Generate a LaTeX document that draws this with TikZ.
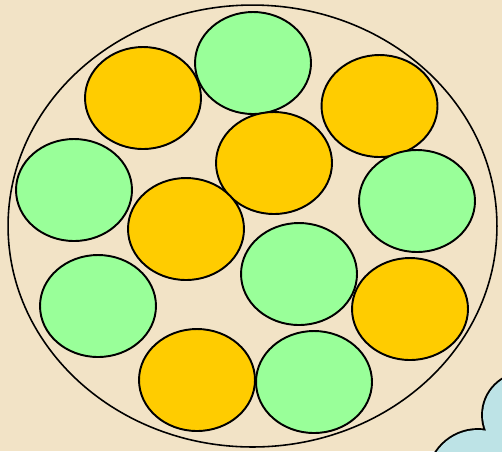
\documentclass[tikz,border=0pt]{standalone}
\usepackage{tikz}
\usetikzlibrary{shapes.geometric}
\usepackage{xcolor}
\definecolor{fundo}{HTML}{F2E3C6}
\definecolor{amarelo}{HTML}{FFCC00}
\definecolor{verde}{HTML}{99FF99}
\definecolor{nuvem}{HTML}{BDE3E6}
\begin{document}
\begin{tikzpicture}[x=0.02cm, y=-0.02cm,
        prato/.style={draw, ellipse, line width=0.9pt, minimum width=9.78cm, minimum height=8.84cm, inner sep=0pt},
        bola/.style={draw, ellipse, line width=1.1pt, minimum width=2.32cm, minimum height=2.04cm, inner sep=0pt},
        amarela/.style={bola, fill=amarelo},
        verdinha/.style={bola, fill=verde}
    ]
    % Fundo
    \useasboundingbox (0,0) rectangle (502,451);
    \fill[fundo] (0,0) rectangle (502,451);
    % Elipse externa
    \node[prato] (prato) at (252.5,226) {};
    % Bolas
    \node[amarela] (a1) at (143,98) {};
    \node[verdinha] (v1) at (253,63) {};
    \node[amarela] (a2) at (379.5,106) {};
    \node[amarela] (a3) at (274,163) {};
    \node[verdinha] (v2) at (74,190) {};
    \node[verdinha] (v3) at (417,201) {};
    \node[amarela] (a4) at (186,229) {};
    \node[verdinha] (v4) at (299,274) {};
    \node[amarela] (a5) at (410,309) {};
    \node[verdinha] (v5) at (98,306) {};
    \node[amarela] (a6) at (197,380) {};
    \node[verdinha] (v6) at (314,382) {};
    % Nuvem no canto
    \begin{scope}
        \clip (0,0) rectangle (502,451);
        \draw[line width=2.2pt] (478,480) circle[radius=1cm] (525,415) circle[radius=0.84cm];
        \fill[nuvem] (478,480) circle[radius=1cm] (525,415) circle[radius=0.84cm];
    \end{scope}
\end{tikzpicture}
\end{document}
